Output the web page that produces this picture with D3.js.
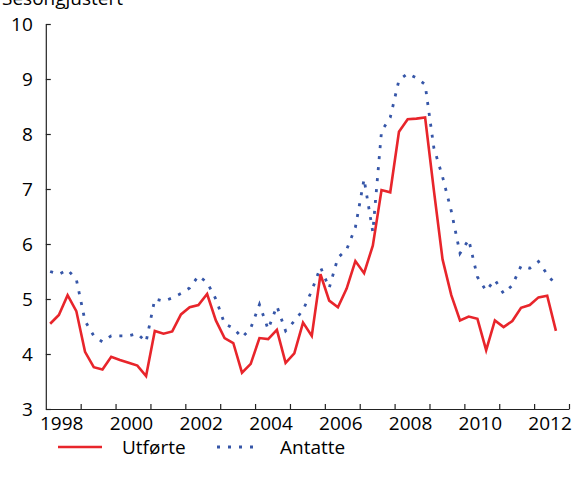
<!DOCTYPE html>
<html>
<head>
<meta charset="utf-8">
<script src="https://cdn.jsdelivr.net/npm/d3@7"></script>
<style>
  html, body { margin: 0; padding: 0; background: #fff; }
  svg { display: block; font-family: "Open Sans", sans-serif; }
</style>
</head>
<body>
<svg id="chart" width="574" height="482"></svg>
<script>
// Quarterly series, 1998Q1 .. 2012Q3
const startYear = 1998;
const utforte = [
  4.55, 4.71, 5.07, 4.78, 4.04, 3.76, 3.72, 3.95,
  3.89, 3.84, 3.79, 3.60, 4.42, 4.37, 4.41, 4.72,
  4.85, 4.89, 5.09, 4.61, 4.29, 4.20, 3.66, 3.82,
  4.29, 4.27, 4.44, 3.84, 4.01, 4.57, 4.33, 5.45,
  4.97, 4.85, 5.19, 5.69, 5.47, 5.97, 6.98, 6.94,
  8.04, 8.27, 8.28, 8.30, 6.98, 5.72, 5.07, 4.61,
  4.68, 4.64, 4.07, 4.61, 4.49, 4.60, 4.84, 4.89,
  5.03, 5.06, 4.42
];
const antatte = [
  5.50, 5.45, 5.53, 5.36, 4.60, 4.33, 4.22, 4.33,
  4.33, 4.33, 4.37, 4.22, 5.00, 4.96, 5.02, 5.10,
  5.20, 5.42, 5.30, 5.00, 4.55, 4.47, 4.30, 4.47,
  4.90, 4.45, 4.87, 4.42, 4.60, 4.80, 5.15, 5.58,
  5.20, 5.75, 5.90, 6.30, 7.18, 6.22, 8.05, 8.30,
  8.98, 9.10, 9.02, 8.90, 7.75, 7.22, 6.60, 5.83,
  6.08, 5.40, 5.15, 5.35, 5.10, 5.25, 5.60, 5.56,
  5.68, 5.45, 5.25
];
const yTicks = [3, 4, 5, 6, 7, 8, 9, 10];
const xTickYears = [1999, 2000, 2001, 2002, 2003, 2004, 2005, 2006, 2007, 2008, 2009, 2010, 2011, 2012, 2013];
const xLabelYears = [1998, 2000, 2002, 2004, 2006, 2008, 2010, 2012];
const yTitle = "Sesongjustert";
const seriesNames = ["Utførte", "Antatte"];

const svg = d3.select("#chart");
const x = d3.scaleLinear().domain([1998, 2013]).range([45.8, 569]);
const y = d3.scaleLinear().domain([3, 10]).range([409, 24]);
const tq = i => startYear + (i + 0.5) / 4;

const red = "#e8252b";
const blue = "#3656a8";
const fs = 19;

// title
svg.append("text").attr("x", 2).attr("y", 5)
  .attr("font-size", fs).attr("fill", "#000").text(yTitle);

// y axis
const yAxis = svg.append("g").attr("transform", `translate(${x(1998)},0)`)
  .call(d3.axisLeft(y).tickValues(yTicks).tickFormat(d3.format("d"))
    .tickSize(-5).tickSizeOuter(0).tickPadding(13));
yAxis.selectAll("text").attr("font-size", fs).attr("fill", "#000").attr("font-family", "Open Sans, sans-serif");
yAxis.selectAll("line,path").attr("stroke", "#222").attr("stroke-width", 1.2);

// x axis ticks
const xAxis = svg.append("g").attr("transform", `translate(0,${y(3)})`)
  .call(d3.axisBottom(x).tickValues(xTickYears).tickFormat("")
    .tickSize(-5).tickSizeOuter(0));
xAxis.selectAll("line,path").attr("stroke", "#222").attr("stroke-width", 1.2);

// x labels at mid-year
const xLab = svg.append("g").attr("transform", `translate(-2,${y(3)})`)
  .call(d3.axisBottom(x).tickValues(xLabelYears.map(v => v + 0.5)).tickFormat(d => String(Math.floor(d)))
    .tickSize(0).tickPadding(8));
xLab.select("path").remove();
xLab.selectAll("text").attr("font-size", fs).attr("fill", "#000").attr("font-family", "Open Sans, sans-serif");

// lines
const line = d3.line().x((d, i) => x(tq(i))).y(d => y(d));
svg.append("path").datum(antatte).attr("d", line)
  .attr("fill", "none").attr("stroke", blue).attr("stroke-width", 2.8)
  .attr("stroke-dasharray", "3,8");
svg.append("path").datum(utforte).attr("d", line)
  .attr("fill", "none").attr("stroke", red).attr("stroke-width", 2.6)
  .attr("stroke-linejoin", "miter");

// legend
const lg = svg.append("g");
lg.append("line").attr("x1", 58).attr("x2", 102).attr("y1", 447).attr("y2", 447)
  .attr("stroke", red).attr("stroke-width", 2.6);
lg.append("text").attr("x", 122).attr("y", 447).attr("dy", "0.35em")
  .attr("font-size", fs).attr("fill", "#000").text(seriesNames[0]);
lg.append("line").attr("x1", 217).attr("x2", 255).attr("y1", 447).attr("y2", 447)
  .attr("stroke", blue).attr("stroke-width", 2.8).attr("stroke-dasharray", "3,8");
lg.append("text").attr("x", 280).attr("y", 447).attr("dy", "0.35em")
  .attr("font-size", fs).attr("fill", "#000").text(seriesNames[1]);
</script>
</body>
</html>
